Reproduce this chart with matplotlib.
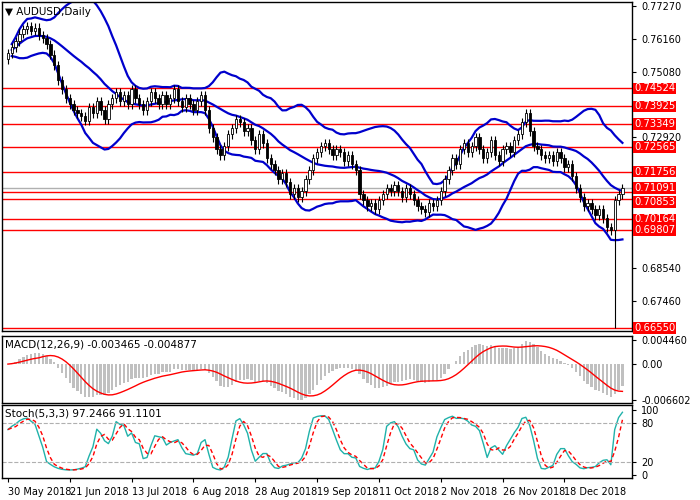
import numpy as np
import pandas as pd
import matplotlib
matplotlib.use("Agg")
import matplotlib.pyplot as plt
from matplotlib.transforms import offset_copy

closes = [
    0.7570, 0.7590, 0.7610, 0.7635, 0.7650, 0.7660, 0.7645, 0.7655, 0.7630, 0.7620,
    0.7600, 0.7565, 0.7530, 0.7480, 0.7450, 0.7420, 0.7400, 0.7380, 0.7370, 0.7360,
    0.7345, 0.7390, 0.7370, 0.7410, 0.7380, 0.7350, 0.7400, 0.7420, 0.7440, 0.7410,
    0.7430, 0.7400, 0.7450, 0.7420, 0.7400, 0.7380, 0.7410, 0.7440, 0.7420, 0.7400,
    0.7430, 0.7400, 0.7420, 0.7450, 0.7410, 0.7390, 0.7420, 0.7400, 0.7380, 0.7410,
    0.7430, 0.7380, 0.7320, 0.7290, 0.7250, 0.7230, 0.7260, 0.7300, 0.7320, 0.7350,
    0.7340, 0.7310, 0.7320, 0.7280, 0.7250, 0.7300, 0.7270, 0.7220, 0.7200, 0.7180,
    0.7150, 0.7170, 0.7140, 0.7100, 0.7120, 0.7090, 0.7110, 0.7150, 0.7180, 0.7220,
    0.7240, 0.7260, 0.7270, 0.7250, 0.7230, 0.7250, 0.7240, 0.7210, 0.7230, 0.7200,
    0.7180, 0.7100, 0.7080, 0.7060, 0.7070, 0.7050, 0.7080, 0.7100, 0.7120, 0.7110,
    0.7130, 0.7110, 0.7090, 0.7120, 0.7100, 0.7080, 0.7060, 0.7050, 0.7040, 0.7070,
    0.7060, 0.7080, 0.7110, 0.7150, 0.7180, 0.7220, 0.7200, 0.7250, 0.7270, 0.7240,
    0.7260, 0.7290, 0.7250, 0.7220, 0.7240, 0.7280, 0.7230, 0.7210, 0.7250, 0.7260,
    0.7240, 0.7280, 0.7300, 0.7340, 0.7370, 0.7310, 0.7260, 0.7250, 0.7230, 0.7220,
    0.7230, 0.7210, 0.7240, 0.7220, 0.7190, 0.7200, 0.7160, 0.7120, 0.7090, 0.7060,
    0.7070, 0.7050, 0.7030, 0.7050, 0.7020, 0.6990, 0.6980, 0.7080, 0.7100, 0.7120,
]
first_open = 0.7550
crash_idx = 157
crash_low = 0.6655

levels = [0.74524, 0.73925, 0.73349, 0.72565, 0.71756, 0.71091, 0.70853, 0.70164, 0.69807, 0.66550]
price_ticks = [0.77270, 0.76160, 0.75080, 0.72920, 0.68540, 0.67460]
date_idx = [0, 16, 32, 48, 64, 80, 96, 112, 128, 144]
date_labels = ["30 May 2018", "21 Jun 2018", "13 Jul 2018", "6 Aug 2018", "28 Aug 2018",
               "19 Sep 2018", "11 Oct 2018", "2 Nov 2018", "26 Nov 2018", "18 Dec 2018"]
macd_text = "MACD(12,26,9) -0.003465 -0.004877"
stoch_text = "Stoch(5,3,3) 97.2466 91.1101"

c = pd.Series(closes)
o = c.shift(1).fillna(first_open)
hi = np.maximum(o, c) + 0.0015
lo = np.minimum(o, c) - 0.0015
lo[crash_idx] = crash_low
n = len(c)
x = np.arange(n)

mid = c.rolling(20, min_periods=2).mean()
sd = c.rolling(20, min_periods=2).std(ddof=0)
upper, lower = mid + 2 * sd, mid - 2 * sd

ema12 = c.ewm(span=12, adjust=False).mean()
ema26 = c.ewm(span=26, adjust=False).mean()
macd = ema12 - ema26
signal = macd.rolling(9, min_periods=1).mean()

ll = lo.rolling(5, min_periods=1).min()
hh = hi.rolling(5, min_periods=1).max()
k = ((c - ll).rolling(3, min_periods=1).sum() / (hh - ll).rolling(3, min_periods=1).sum() * 100)
d = k.rolling(3, min_periods=1).mean()

fig = plt.figure(figsize=(7, 5), dpi=100)
ax = fig.add_axes([0.003, 0.338, 0.9, 0.658])
ax2 = fig.add_axes([0.003, 0.194, 0.9, 0.134], sharex=ax)
ax3 = fig.add_axes([0.003, 0.044, 0.9, 0.146], sharex=ax)

# candles
for i in x:
    bull = c[i] >= o[i]
    ax.vlines(i, lo[i], hi[i], color="black", lw=0.8, zorder=3)
    b0, b1 = min(o[i], c[i]), max(o[i], c[i])
    ax.bar(i, max(b1 - b0, 0.0002), bottom=b0, width=0.6,
           color="white" if bull else "black", edgecolor="black", lw=0.6, zorder=4)

for arr in (mid, upper, lower):
    ax.plot(x, arr, color="#0000cc", lw=1.6, zorder=2)

# two close labels nudged apart so they don't collide
nudge = {0.71091: 2.5, 0.70853: -2.5}
for lv in levels:
    ax.axhline(lv, color="red", lw=1, zorder=1)
    tr = offset_copy(ax.get_yaxis_transform(), fig=fig, y=nudge.get(lv, 0), units="points")
    ax.text(1.003, lv, f"{lv:.5f}", transform=tr, va="center", ha="left",
            fontsize=7.2, color="white", bbox=dict(facecolor="red", edgecolor="none", pad=0.6))
ax.axhline(closes[-1], color="#b0b0b0", lw=1, zorder=1)

ax.set_ylim(0.6645, 0.7740)
ax.set_xlim(-1.5, 161.5)
ax.yaxis.tick_right()
ax.set_yticks(price_ticks)
ax.set_yticklabels([f"{p:.5f}" for p in price_ticks])
ax.text(0.005, 0.985, "\u25bc AUDUSD,Daily", transform=ax.transAxes, fontsize=7.5, va="top")

# macd
ax2.bar(x, macd, width=0.6, color="#c0c0c0")
ax2.plot(x, signal, color="red", lw=1)
ax2.set_ylim(-0.0072, 0.0052)
ax2.yaxis.tick_right()
ax2.set_yticks([0.004460, 0.0, -0.006602])
ax2.set_yticklabels(["0.004460", "0.00", "-0.006602"])
ax2.text(0.005, 0.95, macd_text, transform=ax2.transAxes, fontsize=7.5, va="top")

# stochastic
ax3.plot(x, k, color="#20b2aa", lw=1)
ax3.plot(x, d, color="red", lw=1, ls=(0, (3, 2)))
for lv in (20, 80):
    ax3.axhline(lv, color="#b0b0b0", lw=0.8, ls="--")
ax3.set_ylim(-5, 108)
ax3.yaxis.tick_right()
ax3.set_yticks([100, 80, 20, 0])
ax3.set_yticklabels(["100", "80", "20", "0"])
ax3.text(0.005, 0.95, stoch_text, transform=ax3.transAxes, fontsize=7.5, va="top")
ax3.set_xticks(date_idx)
ax3.set_xticklabels(date_labels, ha="left")

for a in (ax, ax2, ax3):
    a.tick_params(labelsize=7, length=3, direction="out")
    for s in a.spines.values():
        s.set_linewidth(1)
for a in (ax, ax2):
    a.tick_params(axis="x", bottom=False, labelbottom=False)

fig.savefig("out.png", dpi=100)
